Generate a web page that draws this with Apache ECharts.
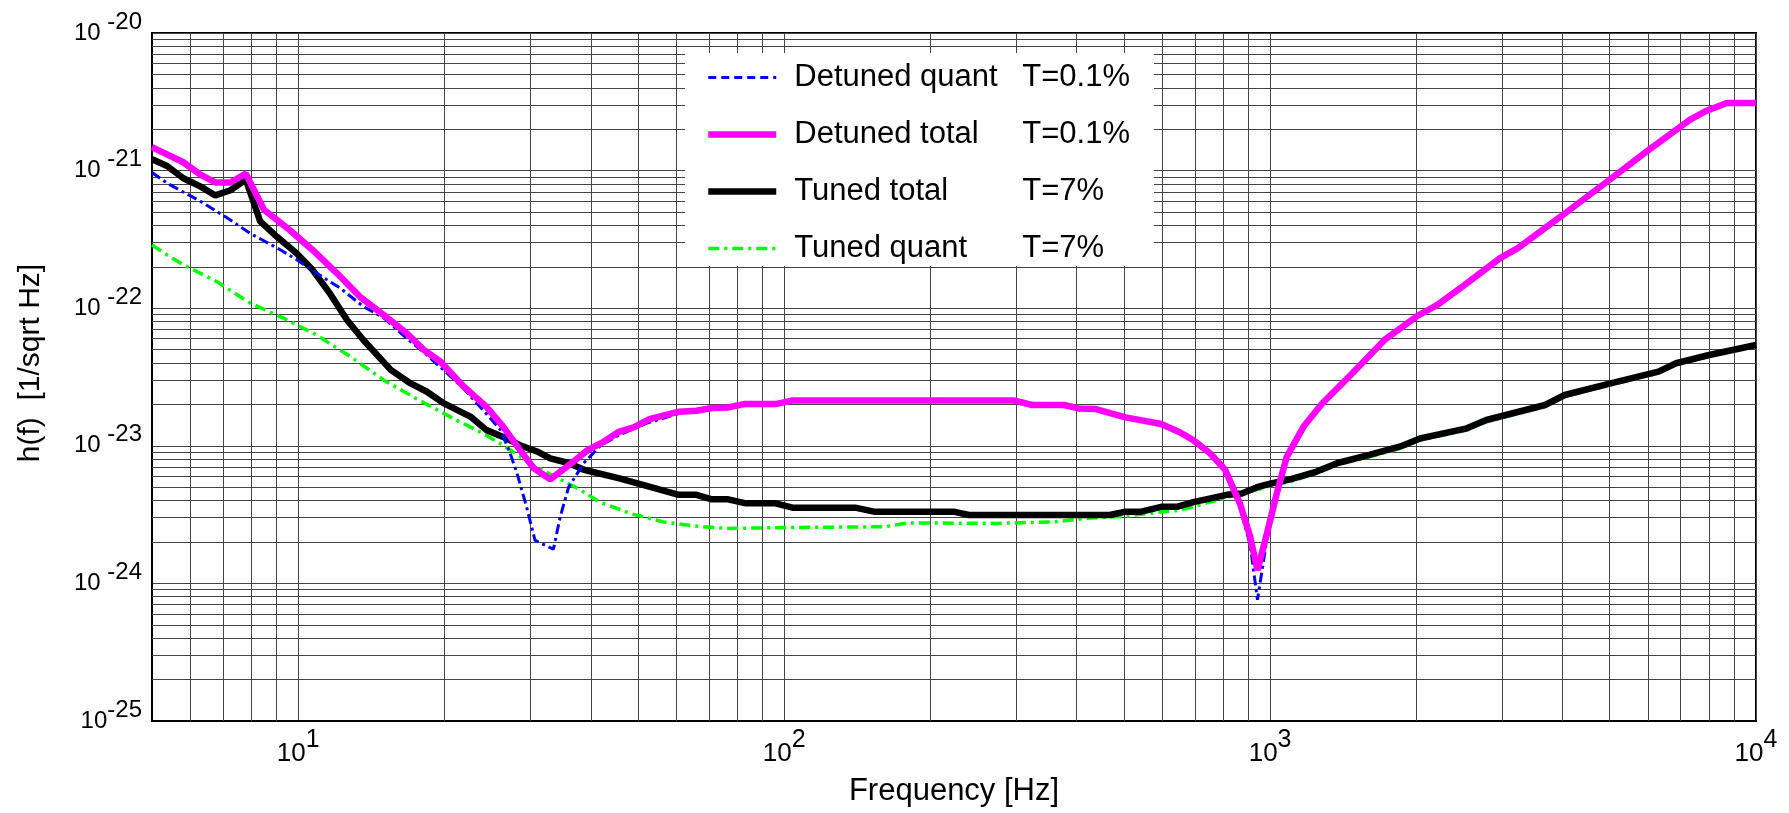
<!DOCTYPE html>
<html>
<head>
<meta charset="utf-8">
<script src="https://cdn.jsdelivr.net/npm/echarts@6/dist/echarts.min.js"></script>
<style>
  html, body { margin: 0; padding: 0; background: #fff; }
  #chart { width: 1789px; height: 813px; }
</style>
</head>
<body>
<div id="chart"></div>
<script>
// frequency [Hz] and h(f) [1/sqrt Hz]
const detTotalF = [5.0, 5.8, 6.3, 6.75, 7.25, 7.8, 8.5, 9.6, 10.7, 12.0, 13.4, 15.0, 16.7, 18.1, 19.6, 21.9, 24.4, 26.4, 28.6, 30.5, 33.0, 36.0, 39.4, 42.5, 45.8, 49, 52.8, 60.7, 66, 71, 76.7, 82.6, 96, 103.6, 298, 324, 377, 403, 438, 504, 597, 653, 695, 753, 808, 867, 910, 942, 985, 1032, 1082, 1172, 1280, 1430, 1722, 2000, 2213, 2543, 2974, 3235, 3966, 5043, 5960, 7306, 7870, 8710, 10000]
const detTotalH = [1.48e-21, 1.15e-21, 9.3e-22, 8.2e-22, 8.2e-22, 9.5e-22, 5.2e-22, 3.7e-22, 2.65e-22, 1.8e-22, 1.21e-22, 8.9e-23, 6.6e-23, 5.0e-23, 4.1e-23, 2.7e-23, 1.92e-23, 1.38e-23, 9.3e-24, 6.9e-24, 5.7e-24, 7.2e-24, 9.3e-24, 1.07e-23, 1.27e-23, 1.36e-23, 1.56e-23, 1.77e-23, 1.8e-23, 1.88e-23, 1.9e-23, 2.01e-23, 2.01e-23, 2.13e-23, 2.13e-23, 1.98e-23, 1.98e-23, 1.87e-23, 1.85e-23, 1.61e-23, 1.44e-23, 1.25e-23, 1.1e-23, 8.8e-24, 6.7e-24, 3.8e-24, 2.18e-24, 1.25e-24, 2.3e-24, 4.5e-24, 8.3e-24, 1.38e-23, 2.03e-23, 3.0e-23, 5.9e-23, 8.7e-23, 1.06e-22, 1.52e-22, 2.31e-22, 2.73e-22, 4.64e-22, 8.8e-22, 1.38e-21, 2.34e-21, 2.7e-21, 3.1e-21, 3.1e-21]

const detQuantF = [5.0, 5.37, 6.3, 7.25, 7.96, 9.2, 9.93, 10.9, 12.2, 13.6, 15.0, 16.7, 18.1, 19.9, 21.9, 24.0, 26.1, 27.3, 28.2, 29.5, 30.7, 33.5, 34.6, 36.0, 38.7, 41.7, 45.8, 52.2, 60.7, 66, 71, 76.7, 82.6, 96, 103.6, 298, 324, 377, 403, 438, 504, 597, 653, 695, 753, 808, 867, 910, 942, 985, 1032, 1082, 1172, 1280, 1430, 1722, 2000, 2213, 2543, 2974, 3235, 3966, 5043, 5960, 7306, 7870, 8710, 10000]
const detQuantH = [9.7e-22, 8.1e-22, 5.96e-22, 4.38e-22, 3.5e-22, 2.65e-22, 2.25e-22, 1.8e-22, 1.4e-22, 1.03e-22, 8.5e-23, 6.05e-23, 4.8e-23, 3.56e-23, 2.6e-23, 1.82e-23, 1.3e-23, 8.8e-24, 6.3e-24, 3.6e-24, 2.06e-24, 1.77e-24, 3.05e-24, 5.0e-24, 7.5e-24, 9.9e-24, 1.2e-23, 1.46e-23, 1.72e-23, 1.78e-23, 1.86e-23, 1.88e-23, 1.99e-23, 1.99e-23, 2.11e-23, 2.11e-23, 1.96e-23, 1.96e-23, 1.85e-23, 1.83e-23, 1.6e-23, 1.42e-23, 1.23e-23, 1.08e-23, 8.6e-24, 6.5e-24, 3.6e-24, 1.9e-24, 7.6e-25, 2.1e-24, 4.4e-24, 8.2e-24, 1.37e-23, 2.02e-23, 2.98e-23, 5.85e-23, 8.6e-23, 1.05e-22, 1.5e-22, 2.29e-22, 2.7e-22, 4.6e-22, 8.7e-22, 1.37e-21, 2.32e-21, 2.68e-21, 3.08e-21, 3.08e-21]

const tunedTotalF = [5.0, 5.37, 5.8, 6.3, 6.75, 7.25, 7.8, 8.35, 9.04, 9.93, 10.7, 11.6, 12.6, 13.6, 15.5, 17.0, 18.4, 19.9, 22.6, 24.4, 26.4, 28.6, 31.0, 33.0, 36.0, 38.7, 45.8, 53.2, 60.7, 66, 71, 76.7, 83.4, 96, 104, 140, 153, 223, 240, 468, 504, 543, 597, 643, 695, 814, 875, 940, 1000, 1100, 1247, 1377, 1600, 1855, 2034, 2540, 2787, 3680, 4040, 5043, 6300, 6845, 8010, 10000]
const tunedTotalH = [1.21e-21, 1.08e-21, 8.8e-22, 7.65e-22, 6.6e-22, 7.2e-22, 8.6e-22, 4.27e-22, 3.3e-22, 2.5e-22, 1.9e-22, 1.29e-22, 8.2e-23, 5.9e-23, 3.56e-23, 2.85e-23, 2.47e-23, 2.04e-23, 1.63e-23, 1.3e-23, 1.16e-23, 1.01e-23, 9.1e-24, 8.1e-24, 7.5e-24, 6.7e-24, 5.8e-24, 5.0e-24, 4.4e-24, 4.4e-24, 4.08e-24, 4.08e-24, 3.82e-24, 3.82e-24, 3.55e-24, 3.55e-24, 3.32e-24, 3.32e-24, 3.14e-24, 3.14e-24, 3.32e-24, 3.32e-24, 3.6e-24, 3.6e-24, 3.9e-24, 4.4e-24, 4.5e-24, 5.0e-24, 5.3e-24, 5.7e-24, 6.5e-24, 7.5e-24, 8.6e-24, 9.9e-24, 1.13e-23, 1.34e-23, 1.54e-23, 1.98e-23, 2.34e-23, 2.85e-23, 3.46e-23, 3.98e-23, 4.57e-23, 5.4e-23]

const tunedQuantF = [5.0, 5.37, 5.8, 6.8, 7.96, 9.3, 10.9, 12.8, 15.0, 17.5, 20.5, 24.0, 26.4, 30.5, 36.0, 38.0, 41.7, 48.5, 56.4, 65.5, 76, 106, 161, 180, 272, 360, 418, 504, 597, 653, 814, 940, 1000, 1100, 1247, 1377, 1600, 1855, 2034, 2540, 2787, 3680, 4040, 5043, 6300, 6845, 8010, 10000]
const tunedQuantH = [2.88e-22, 2.44e-22, 2.07e-22, 1.56e-22, 1.09e-22, 8.5e-23, 6.4e-23, 4.45e-23, 3.0e-23, 2.2e-23, 1.63e-23, 1.23e-23, 1.01e-23, 7.2e-24, 5.3e-24, 4.8e-24, 3.9e-24, 3.2e-24, 2.8e-24, 2.61e-24, 2.51e-24, 2.55e-24, 2.58e-24, 2.75e-24, 2.73e-24, 2.8e-24, 2.97e-24, 3.08e-24, 3.3e-24, 3.4e-24, 4.2e-24, 4.8e-24, 5.1e-24, 5.5e-24, 6.3e-24, 7.3e-24, 8.3e-24, 9.6e-24, 1.1e-23, 1.3e-23, 1.5e-23, 1.93e-23, 2.28e-23, 2.78e-23, 3.38e-23, 3.9e-23, 4.47e-23, 5.3e-23]

const legendNames = ['Detuned quant', 'Detuned total', 'Tuned total', 'Tuned quant']
const legendT = ['T=0.1%', 'T=0.1%', 'T=7%', 'T=7%']

const FONT = "'Liberation Sans', Arial, sans-serif"
const GRID_COLOR = '#444'
// the log scale loses precision near 1e-25, so the y axis works in units of 1e-25
const Y_UNIT_EXP = -25
const Y_UNIT = 1e-25

const pair = (f, h) => f.map((x, i) => [x, h[i] / Y_UNIT])

// log-scale minor grid (2..9 of each decade)
const minorLines = []
for (const d of [1, 10, 100, 1000]) {
  for (let k = 2; k <= 9; k++) {
    const v = k * d
    if (v > 5 && v < 10000) minorLines.push({ xAxis: v })
  }
}
for (const d of [1, 10, 100, 1000, 10000]) {
  for (let k = 2; k <= 9; k++) minorLines.push({ yAxis: k * d })
}

const exponentOf = (v) => {
  const l = Math.log10(v)
  const e = Math.round(l)
  return Math.abs(l - e) < 1e-6 ? e : null
}

const chart = echarts.init(document.getElementById('chart'))

chart.setOption({
  animation: false,
  textStyle: { fontFamily: FONT, color: '#000' },
  grid: {
    left: 152, top: 33, right: 33, bottom: 92,
    show: true, borderColor: '#000', borderWidth: 2, backgroundColor: '#fff'
  },
  legend: {
    data: legendNames.map((name) => name === 'Detuned quant'
      ? { name, lineStyle: { type: [8, 5], width: 3 } }
      : { name }),
    orient: 'vertical',
    left: 685, top: 53,
    itemWidth: 68, itemHeight: 14, itemGap: 26,
    padding: [9, 24, 2, 20],
    backgroundColor: '#fff',
    itemStyle: { opacity: 0 },
    lineStyle: { width: 'inherit' },
    formatter: (name) => `{n|${name}}{t|${legendT[legendNames.indexOf(name)]}}`,
    textStyle: {
      fontFamily: FONT, fontSize: 31, color: '#000',
      rich: {
        n: { fontFamily: FONT, fontSize: 31, lineHeight: 32, width: 228, padding: [0, 0, 0, 13], color: '#000' },
        t: { fontFamily: FONT, fontSize: 31, lineHeight: 32, color: '#000' }
      }
    }
  },
  xAxis: {
    type: 'log', logBase: 10, min: 5, max: 10000,
    name: 'Frequency [Hz]', nameLocation: 'middle', nameGap: 55,
    nameTextStyle: { fontFamily: FONT, fontSize: 31, color: '#000' },
    axisLine: { show: true, lineStyle: { color: '#000', width: 2 } },
    axisTick: { show: false },
    axisLabel: {
      margin: 13,
      formatter: (v) => {
        const e = exponentOf(v)
        return e === null ? '' : `{b|10}{s|${e}}`
      },
      rich: {
        b: { fontFamily: FONT, fontSize: 26, lineHeight: 26, padding: [13, 0, 0, 0], color: '#000' },
        s: { fontFamily: FONT, fontSize: 25, lineHeight: 25, padding: [0, 0, 14, 0], color: '#000' }
      }
    },
    splitLine: { show: true, lineStyle: { color: GRID_COLOR, width: 1 } }
  },
  yAxis: {
    type: 'log', logBase: 10, min: 1, max: 1e5,
    name: 'h(f)  [1/sqrt Hz]', nameLocation: 'middle', nameGap: 106,
    nameTextStyle: { fontFamily: FONT, fontSize: 30, color: '#000', padding: [0, 0, 0, 28] },
    axisLine: { show: true, lineStyle: { color: '#000', width: 2 } },
    axisTick: { show: false },
    axisLabel: {
      margin: 10,
      padding: [0, 0, 11, 0],
      formatter: (v) => {
        const e0 = exponentOf(v)
        if (e0 === null) return ''
        const e = e0 + Y_UNIT_EXP
        return e === -25 ? `{b|10}{s|${e}}` : `{b|10}{s| ${e}}`
      },
      rich: {
        b: { fontFamily: FONT, fontSize: 24, lineHeight: 24, padding: [11, 0, 0, 0], color: '#000' },
        s: { fontFamily: FONT, fontSize: 24, lineHeight: 24, padding: [0, 0, 11, 0], color: '#000' }
      }
    },
    splitLine: { show: true, lineStyle: { color: GRID_COLOR, width: 1 } }
  },
  series: [
    {
      name: 'Tuned quant', type: 'line', z: 3,
      data: pair(tunedQuantF, tunedQuantH),
      symbol: 'none',
      itemStyle: { color: '#00ff00' },
      lineStyle: { color: '#00ff00', width: 3.5, type: [11, 5, 3, 5] },
      markLine: {
        silent: true, symbol: 'none', z: 1, animation: false,
        label: { show: false },
        lineStyle: { color: GRID_COLOR, width: 1, type: 'solid' },
        emphasis: { disabled: true },
        data: minorLines
      }
    },
    {
      name: 'Tuned total', type: 'line', z: 4,
      data: pair(tunedTotalF, tunedTotalH),
      symbol: 'none',
      itemStyle: { color: '#000' },
      lineStyle: { color: '#000', width: 6.5 }
    },
    {
      name: 'Detuned quant', type: 'line', z: 5,
      data: pair(detQuantF, detQuantH),
      symbol: 'none',
      itemStyle: { color: '#0000ff' },
      lineStyle: { color: '#0000ff', width: 3, type: [10, 4, 3, 4] }
    },
    {
      name: 'Detuned total', type: 'line', z: 6,
      data: pair(detTotalF, detTotalH),
      symbol: 'none',
      itemStyle: { color: '#ff00ff' },
      lineStyle: { color: '#ff00ff', width: 6.5 }
    }
  ]
})
</script>
</body>
</html>
